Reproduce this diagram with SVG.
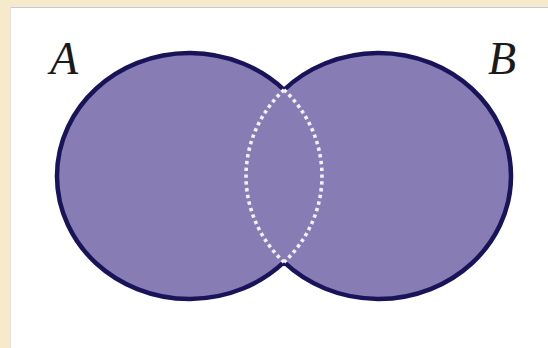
<svg xmlns="http://www.w3.org/2000/svg" width="548" height="348" viewBox="0 0 548 348">
  <style>
    .label { font-family: "Liberation Serif", "Times New Roman", serif; font-style: italic; font-size: 46px; fill: #1a1a1a; }
    .union { fill: #887cb4; stroke: #19145a; stroke-width: 4.5; stroke-linejoin: miter; }
    .inner { fill: none; stroke: #f4f2f8; stroke-width: 3.6; stroke-dasharray: 3.4 3.4; }
  </style>
  <rect x="0" y="0" width="548" height="348" fill="#f7e9cc"/>
  <rect id="panel" x="10" y="7" width="538" height="341" fill="#ffffff"/>
  <line x1="10" y1="7.5" x2="548" y2="7.5" stroke="#c3c8e6" stroke-width="1"/>
  <line x1="10.5" y1="7" x2="10.5" y2="348" stroke="#eedddd" stroke-width="1"/>
  <g id="sets">
    <path class="union" d="M284,89.8 A132.5,123 0 1 0 284,262.2 A132.5,123 0 1 0 284,89.8 Z"/>
  </g>
  <g id="connectors">
    <path class="inner" d="M284,89.8 A132.5,123 0 0 1 284,262.2"/>
    <path class="inner" d="M284,89.8 A132.5,123 0 0 0 284,262.2"/>
  </g>
  <g id="labelA"><text class="label" x="50" y="74">A</text></g>
  <g id="labelB"><text class="label" x="488" y="74">B</text></g>
</svg>
